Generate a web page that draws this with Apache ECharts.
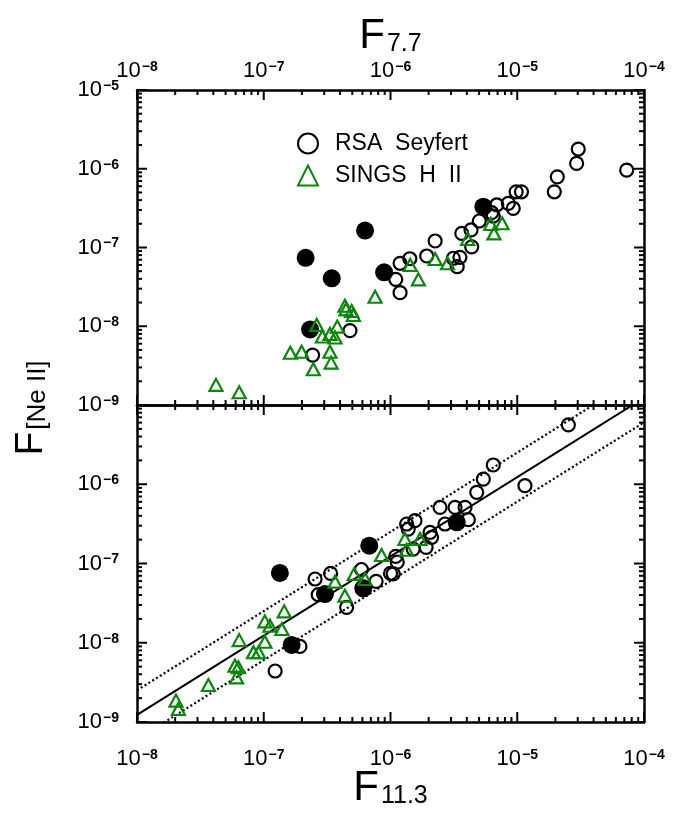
<!DOCTYPE html>
<html><head><meta charset="utf-8">
<script src="https://cdn.jsdelivr.net/npm/echarts@6/dist/echarts.min.js"></script>
<style>html,body{margin:0;padding:0;background:#fff}#c{width:684px;height:813px}</style>
</head><body><div id="c"></div>
<script>
// ---------------- DATA ----------------
// Top panel: F_7.7 vs F_[Ne II]
const seyfert77 = [
  [2.43e-7,4.3e-9],[4.79e-7,8.8e-9],[1.10e-6,3.94e-8],[1.19e-6,6.3e-8],[1.19e-6,2.67e-8],
  [1.42e-6,7.2e-8],[1.93e-6,7.8e-8],[2.25e-6,1.21e-7],[3.13e-6,7.3e-8],[3.36e-6,5.7e-8],
  [3.53e-6,7.5e-8],[3.65e-6,1.51e-7],[4.32e-6,1.67e-7],[4.37e-6,1.02e-7],[5.02e-6,2.17e-7],
  [6.47e-6,2.51e-7],[6.89e-6,3.47e-7],[6.28e-6,2.77e-7],[8.5e-6,3.64e-7],[9.3e-6,3.14e-7],
  [9.8e-6,5.1e-7],[1.08e-5,5.1e-7],[1.96e-5,5.1e-7],[2.07e-5,7.9e-7],[2.94e-5,1.17e-6],
  [3.03e-5,1.78e-6],[7.3e-5,9.6e-7]
];
const filled77 = [[2.14e-7,7.4e-8],[3.44e-7,4.06e-8],[6.3e-7,1.64e-7],[8.9e-7,4.84e-8],[2.32e-7,9.1e-9],[5.4e-6,3.3e-7]];
const sings77 = [
  [4.2e-8,1.8e-9],[6.4e-8,1.45e-9],[1.62e-7,4.6e-9],[1.99e-7,4.75e-9],[2.46e-7,2.84e-9],
  [2.62e-7,1.04e-8],[2.9e-7,7.4e-9],[3.33e-7,7.98e-9],[3.65e-7,7.2e-9],[3.33e-7,4.75e-9],
  [3.4e-7,3.45e-9],[3.8e-7,9.9e-9],[4.37e-7,1.82e-8],[4.45e-7,1.64e-8],[4.94e-7,1.56e-8],
  [5.09e-7,1.39e-8],[7.56e-7,2.37e-8],[1.43e-6,6.0e-8],[1.66e-6,3.94e-8],[2.25e-6,7.14e-8],
  [2.82e-6,6.3e-8],[4.06e-6,1.28e-7],[6.17e-6,1.99e-7],[6.55e-6,1.51e-7],[7.6e-6,2.03e-7]
];
// Bottom panel: F_11.3 vs F_[Ne II]
const seyfert113 = [
  [1.93e-7,9.0e-9],[1.23e-7,4.4e-9],[2.54e-7,6.37e-8],[2.69e-7,4.04e-8],[3.37e-7,7.5e-8],
  [4.51e-7,2.8e-8],[5.9e-7,8.4e-8],[7.7e-7,5.96e-8],[1.0e-6,7.5e-8],[1.05e-6,7.4e-8],
  [1.10e-6,1.23e-7],[1.13e-6,1.04e-7],[1.34e-6,3.15e-7],[1.56e-6,3.47e-7],[1.38e-6,2.72e-7],
  [1.51e-6,1.52e-7],[1.91e-6,1.6e-7],[2.05e-6,2.47e-7],[2.11e-6,2.14e-7],[2.46e-6,5.1e-7],
  [2.69e-6,3.15e-7],[3.23e-6,5.1e-7],[3.87e-6,5.1e-7],[4.11e-6,3.57e-7],[4.79e-6,7.9e-7],
  [5.4e-6,1.16e-6],[6.47e-6,1.75e-6],[1.15e-5,9.6e-7],[2.53e-5,5.6e-6]
];
const filled113 = [[1.34e-7,7.6e-8],[1.66e-7,9.4e-9],[3.04e-7,4.12e-8],[6.1e-7,4.86e-8],[6.8e-7,1.68e-7],[3.33e-6,3.31e-7]];
const sings113 = [
  [2.03e-8,1.86e-9],[2.12e-8,1.46e-9],[3.66e-8,2.93e-9],[6.4e-8,1.08e-8],[5.93e-8,5.13e-9],
  [6.3e-8,4.9e-9],[6.1e-8,3.66e-9],[8.3e-8,7.6e-9],[9.1e-8,7.6e-9],[1.02e-7,1.03e-8],
  [1.02e-7,1.86e-8],[1.12e-7,1.64e-8],[1.39e-7,1.49e-8],[1.45e-7,2.49e-8],[3.65e-7,5.9e-8],
  [4.37e-7,3.93e-8],[5.18e-7,7.4e-8],[6.3e-7,6.37e-8],[8.5e-7,1.28e-7],[1.3e-6,2.04e-7],
  [1.34e-6,1.49e-7],[1.71e-6,2.04e-7]
];
// Fit lines: F_[Ne II] = ratio * F_11.3 (solid) and scatter bounds (dotted)
const fitX = [1e-8, 1e-4];
const fitRatio = 0.123;
const boundRatios = [0.251, 0.0603];
// Ticks / labels
const xDecades = [1e-8, 1e-7, 1e-6, 1e-5, 1e-4];
const yDecades = [1e-9, 1e-8, 1e-7, 1e-6, 1e-5];
const yLabelsTop = [1e-9, 1e-8, 1e-7, 1e-6, 1e-5];
const yLabelsBottom = [1e-9, 1e-8, 1e-7, 1e-6];
const minorMult = [2, 3, 4, 5, 6, 7, 8, 9];
const legendNames = ['RSA Seyfert', 'SINGS H II'];

// ---------------- STYLE ----------------
const FONT = 'Liberation Sans';
const GREEN = '#0b870b';
const MAJOR_LEN = 10, MINOR_LEN = 5;
function minorValues(decs) {
  const out = [];
  for (let i = 0; i < decs.length - 1; i++) minorMult.forEach(m => out.push(m * decs[i]));
  return out;
}
function expLabel(v) {
  const e = Math.round(Math.log10(v));
  return '{b|10}{s|' + (e < 0 ? '\u2212' : '') + Math.abs(e) + '}';
}
const labelRich = {
  b: {fontSize: 22, lineHeight: 22, verticalAlign: 'bottom', fontFamily: FONT, color: '#000'},
  s: {fontSize: 14, lineHeight: 14, verticalAlign: 'top', fontWeight: 'bold', fontFamily: FONT, color: '#000', padding: [0, 0, 0, 1]}
};
function dataAxis(o) {
  return {
    type: 'log', logBase: 10, gridIndex: o.grid, position: o.pos, min: o.min, max: o.max,
    axisLine: {show: true, onZero: false, lineStyle: {color: '#000', width: 2.5}},
    axisTick: {show: false}, minorTick: {show: false}, splitLine: {show: false},
    axisLabel: o.labels ? {show: true, customValues: o.labels, formatter: expLabel, margin: o.margin, rich: labelRich} : {show: false},
    name: o.name || '', nameLocation: 'middle', nameGap: o.nameGap || 0,
    nameMoveOverlap: o.noMove ? false : undefined,
    nameTextStyle: o.nameStyle || {},
    silent: true, z: 10
  };
}
const xMin = xDecades[0], xMax = xDecades[xDecades.length - 1];
const yMin = yDecades[0], yMax = yDecades[yDecades.length - 1];
const xMinorV = minorValues(xDecades), yMinorV = minorValues(yDecades);
const titleRich = {
  rich: {
    F: {fontSize: 42, lineHeight: 42, verticalAlign: 'top', fontFamily: FONT, color: '#000'},
    s: {fontSize: 25, lineHeight: 25, verticalAlign: 'bottom', padding: [26, 0, 0, 2], fontFamily: FONT, color: '#000'}
  }
};

const xAxes = [
  dataAxis({grid: 0, pos: 'top', min: xMin, max: xMax, labels: xDecades, margin: 8, name: '{F|F}{s|7.7}', nameGap: 33, nameStyle: titleRich}),
  dataAxis({grid: 0, pos: 'bottom', min: xMin, max: xMax}),
  dataAxis({grid: 1, pos: 'top', min: xMin, max: xMax}),
  dataAxis({grid: 1, pos: 'bottom', min: xMin, max: xMax, labels: xDecades, margin: 26, name: '{F|F}{s|11.3}', nameGap: 45, noMove: true, nameStyle: titleRich})
];
const yAxes = [
  dataAxis({grid: 0, pos: 'left', min: yMin, max: yMax, labels: yLabelsTop, margin: 18}),
  dataAxis({grid: 0, pos: 'right', min: yMin, max: yMax}),
  dataAxis({grid: 1, pos: 'left', min: yMin, max: yMax, labels: yLabelsBottom, margin: 18}),
  dataAxis({grid: 1, pos: 'right', min: yMin, max: yMax})
];
const X_TOP = 0, X_BOT = 3, Y_TOP = 0, Y_BOT = 2;

// Inward tick marks on all four sides, placed through the axes' own scales
function tickLine(x1, y1, x2, y2) {
  return {type: 'line', shape: {x1, y1, x2, y2}, style: {stroke: '#000', lineWidth: 2}};
}
function tickSeries(xi, yi, dir) {
  const items = dir === 'x'
    ? xDecades.map(v => [v, yMin, MAJOR_LEN]).concat(xMinorV.map(v => [v, yMin, MINOR_LEN]))
    : yDecades.map(v => [xMin, v, MAJOR_LEN]).concat(yMinorV.map(v => [xMin, v, MINOR_LEN]));
  return {
    type: 'custom', coordinateSystem: 'cartesian2d', xAxisIndex: xi, yAxisIndex: yi, silent: true, z: 11, clip: false,
    encode: {x: 0, y: 1}, data: items,
    renderItem: (params, api) => {
      const len = api.value(2);
      if (dir === 'x') {
        const v = api.value(0);
        const a = api.coord([v, yMin]), b = api.coord([v, yMax]);
        return {type: 'group', children: [tickLine(a[0], a[1], a[0], a[1] - len), tickLine(b[0], b[1], b[0], b[1] + len)]};
      }
      const v = api.value(1);
      const a = api.coord([xMin, v]), b = api.coord([xMax, v]);
      return {type: 'group', children: [tickLine(a[0], a[1], a[0] + len, a[1]), tickLine(b[0], b[1], b[0] - len, b[1])]};
    }
  };
}

function scatterSet(xi, yi, filled, seyfert, sings) {
  return [
    {type: 'scatter', name: 'AGN', xAxisIndex: xi, yAxisIndex: yi, data: filled, symbol: 'circle', symbolSize: 18,
      itemStyle: {color: '#000', opacity: 1}, z: 3, silent: true},
    {type: 'scatter', name: legendNames[0], xAxisIndex: xi, yAxisIndex: yi, data: seyfert, symbol: 'circle', symbolSize: 13,
      itemStyle: {color: 'rgba(0,0,0,0)', borderColor: '#000', borderWidth: 2.2, opacity: 1}, z: 4, silent: true},
    {type: 'scatter', name: legendNames[1], xAxisIndex: xi, yAxisIndex: yi, data: sings, symbol: 'triangle', symbolSize: [13, 12],
      itemStyle: {color: 'rgba(0,0,0,0)', borderColor: GREEN, borderWidth: 2.2, opacity: 1}, z: 5, silent: true}
  ];
}
const lineSeries = [fitRatio].concat(boundRatios).map((r, i) => ({
  type: 'line', xAxisIndex: X_BOT, yAxisIndex: Y_BOT, showSymbol: false, symbol: 'none', clip: true, silent: true, z: 2,
  data: fitX.map(x => [x, x * r]),
  lineStyle: {color: '#000', width: i === 0 ? 2 : 2.2, type: i === 0 ? 'solid' : [2, 2.5]}
}));

const option = {
  animation: false,
  backgroundColor: '#fff',
  grid: [
    {left: 137, top: 90, width: 507, height: 315, containLabel: false, outerBoundsMode: 'none'},
    {left: 137, top: 405, width: 507, height: 317, containLabel: false, outerBoundsMode: 'none'}
  ],
  xAxis: xAxes,
  yAxis: yAxes,
  legend: {
    data: legendNames, orient: 'vertical', left: 292, top: 127, itemGap: 9,
    itemWidth: 20, itemHeight: 20, selectedMode: false,
    formatter: n => n.replace(/ /g, '  '),
    textStyle: {fontFamily: FONT, fontSize: 23, color: '#000', padding: [0, 0, 0, 12]}
  },
  graphic: [{
    type: 'text', x: 31, y: 408, rotation: Math.PI / 2, silent: true,
    style: {
      text: '{F|F}{s|[Ne II]}', align: 'center', verticalAlign: 'middle',
      rich: {
        F: {fontSize: 39, lineHeight: 39, verticalAlign: 'top', fontFamily: FONT, fill: '#000'},
        s: {fontSize: 26, lineHeight: 26, verticalAlign: 'bottom', padding: [37, 0, 0, 2], fontFamily: FONT, fill: '#000'}
      }
    }
  }],
  series: lineSeries.concat(
    scatterSet(X_TOP, Y_TOP, filled77, seyfert77, sings77),
    scatterSet(X_BOT, Y_BOT, filled113, seyfert113, sings113),
    [tickSeries(X_TOP, Y_TOP, 'x'), tickSeries(X_TOP, Y_TOP, 'y'), tickSeries(X_BOT, Y_BOT, 'x'), tickSeries(X_BOT, Y_BOT, 'y')]
  )
};
const chart = echarts.init(document.getElementById('c'), null, {renderer: 'canvas'});
chart.setOption(option);
</script></body></html>
